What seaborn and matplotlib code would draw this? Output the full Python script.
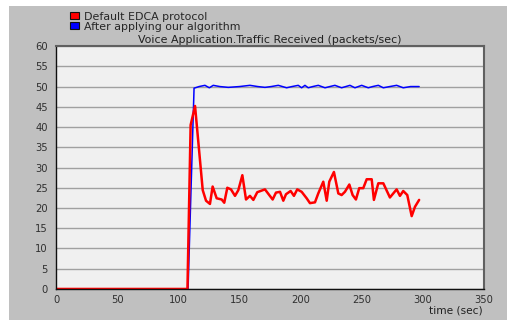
import matplotlib
matplotlib.use("Agg")
import matplotlib.pyplot as plt
import seaborn as sns
import pandas as pd
from matplotlib.patches import Patch, Rectangle

# Data
red_x = [0, 107.5, 110.1, 113.7, 120, 122.7, 125.9, 128.1, 131.4, 135.5, 137.6, 140.1, 143.1,
         146.4, 149.1, 152.4, 155.4, 158.6, 161.4, 164.6, 170.9, 174.4, 177.2, 179.9, 183.2,
         185.9, 188.1, 191.9, 194.6, 197.3, 200.9, 205, 207.7, 211.8, 214.5, 218.6, 221.4,
         223.5, 227.3, 230.9, 233.6, 236.3, 239.9, 242.6, 245.3, 248, 251.3, 254.1, 258.2,
         260, 263.6, 267.7, 273.1, 278.6, 281.3, 284, 287.3, 290.9, 293.6, 297]
red_y = [0, 0, 40.5, 45.2, 24.4, 21.8, 21.0, 25.3, 22.4, 22.1, 21.3, 25.0, 24.6,
         23.0, 24.4, 28.1, 22.1, 23.0, 22.0, 23.9, 24.6, 23.2, 22.1, 23.8, 24.0,
         21.8, 23.4, 24.2, 23.0, 24.6, 24.0, 22.4, 21.2, 21.4, 23.6, 26.5, 21.8,
         26.5, 28.9, 23.6, 23.2, 24.0, 25.8, 23.2, 22.1, 24.9, 24.9, 27.1, 27.1,
         22.0, 26.1, 26.1, 22.6, 24.6, 23.0, 24.2, 23.2, 18.0, 20.3, 22.0]

blue_x = [0, 108, 112.9, 117, 121.8, 125.4, 128.6, 134, 140.9, 150, 158.6, 165, 170.9, 176,
          181.8, 188.6, 193, 198.1, 200.9, 203.6, 206.3, 210, 214.5, 220, 224, 228.1, 233.6,
          237, 240.4, 244.5, 250, 255.4, 259, 263.6, 267.7, 273, 278.6, 284, 290, 297]
blue_y = [0, 0, 49.6, 50.0, 50.3, 49.7, 50.3, 50.0, 49.8, 50.0, 50.3, 50.0, 49.8, 50.0,
          50.3, 49.7, 50.0, 50.3, 49.7, 50.3, 49.7, 50.0, 50.3, 49.7, 50.0, 50.3, 49.7,
          50.0, 50.3, 49.7, 50.3, 49.7, 50.0, 50.3, 49.7, 50.0, 50.3, 49.7, 50.0, 50.0]

series_names = ["Default EDCA protocol", "After applying our algorithm"]
x_ticks = [0, 50, 100, 150, 200, 250, 300, 350]
y_ticks = list(range(0, 61, 5))

sns.set_style("white")
plt.rcParams['font.family'] = ['DejaVu Sans']

fig = plt.figure(figsize=(5.07, 3.2), dpi=100, facecolor="#c0c0c0")
# white strips at top and left of the image
fig.patches.append(Rectangle((0, 0.98), 1, 0.02, transform=fig.transFigure,
                             facecolor="white", edgecolor="none", zorder=0))
fig.patches.append(Rectangle((0, 0), 0.017, 1, transform=fig.transFigure,
                             facecolor="white", edgecolor="none", zorder=0))

ax = fig.add_axes([0.1105, 0.097, 0.844, 0.759])
ax.set_facecolor("#f0f0f0")

df_red = pd.DataFrame({"x": red_x, "y": red_y})
df_blue = pd.DataFrame({"x": blue_x, "y": blue_y})
sns.lineplot(data=df_blue, x="x", y="y", ax=ax, color="#0000ff", linewidth=1.1,
             estimator=None, sort=False)
sns.lineplot(data=df_red, x="x", y="y", ax=ax, color="#ff0000", linewidth=1.8,
             estimator=None, sort=False)

ax.set_xlim(0, 350)
ax.set_ylim(0, 60)
ax.set_xticks(x_ticks)
ax.set_yticks(y_ticks)
ax.set_xticklabels([str(t) for t in x_ticks])
ax.set_yticklabels([str(t) for t in y_ticks])
ax.yaxis.grid(True, color="#a0a0a0", linewidth=1.0)
ax.xaxis.grid(False)
ax.set_axisbelow(True)
ax.tick_params(axis="both", direction="out", length=4, width=0.8, color="#202020",
               labelsize=7.2, labelcolor="#303030")
ax.tick_params(axis="x", pad=0.5)
ax.tick_params(axis="y", pad=2)
for side in ["left", "bottom"]:
    ax.spines[side].set_color("#101010")
    ax.spines[side].set_linewidth(1.0)
for side in ["top", "right"]:
    ax.spines[side].set_color("#606060")
    ax.spines[side].set_linewidth(1.5)
ax.set_xlabel("")
ax.set_ylabel("")

ax.set_title("Voice Application.Traffic Received (packets/sec)", fontsize=7.9,
             color="#202020", pad=2.0)
fig.text(0.951, 0.015, "time (sec)", fontsize=7.6, color="#202020", ha="right", va="bottom")

handles = [Patch(facecolor="#ff0000", edgecolor="#101010", linewidth=0.8),
           Patch(facecolor="#0000ff", edgecolor="#101010", linewidth=0.8)]
fig.legend(handles, series_names, loc="upper left", bbox_to_anchor=(0.138, 0.964),
           frameon=False, fontsize=7.9, handlelength=0.85, handleheight=0.6,
           handletextpad=0.45, labelspacing=0.0, borderaxespad=0, borderpad=0.0)

fig.savefig("out.png", dpi=100, facecolor=fig.get_facecolor())
